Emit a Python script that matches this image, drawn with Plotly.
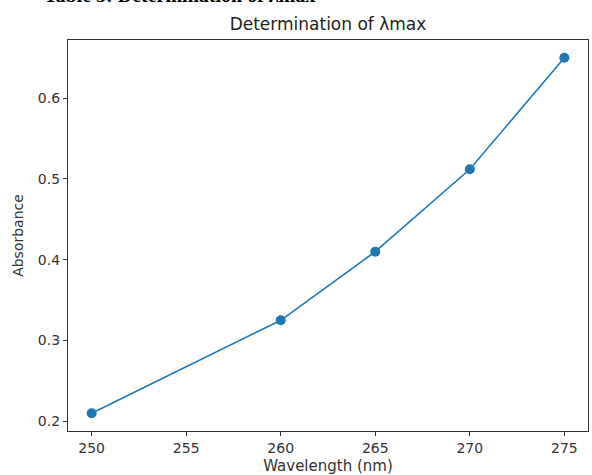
import plotly.graph_objects as go

wavelength = [250, 260, 265, 270, 275]
absorbance = [0.21, 0.325, 0.41, 0.512, 0.65]
x_ticks = [250, 255, 260, 265, 270, 275]
y_ticks = [0.2, 0.3, 0.4, 0.5, 0.6]

fig = go.Figure()
fig.add_trace(go.Scatter(
    x=wavelength, y=absorbance, mode="lines+markers",
    line=dict(color="#1f77b4", width=1.6),
    marker=dict(color="#1f77b4", size=10),
))

axis_common = dict(
    showline=True, linecolor="#333333", linewidth=1.2, mirror=True,
    ticks="outside", ticklen=4, tickcolor="#333333", tickwidth=1,
    showgrid=False, zeroline=False,
    tickfont=dict(family="DejaVu Sans", size=14, color="#333333"),
)

fig.update_layout(
    width=592, height=475,
    margin=dict(l=68, r=4, t=40, b=44),
    paper_bgcolor="white", plot_bgcolor="white",
    showlegend=False,
    title=dict(text="Determination of λmax", x=0.5, xref="paper", xanchor="center",
               y=1, yref="paper", yanchor="bottom", pad=dict(b=10),
               font=dict(family="DejaVu Sans", size=17, color="#222222")),
    xaxis=dict(range=[248.75, 276.25], tickvals=x_ticks,
               title=dict(text="Wavelength (nm)", standoff=5,
                          font=dict(family="DejaVu Sans", size=15, color="#333333")),
               **axis_common),
    yaxis=dict(range=[0.188, 0.672], tickvals=y_ticks, tickformat=".1f",
               title=dict(text="Absorbance", standoff=10,
                          font=dict(family="DejaVu Sans", size=14, color="#333333")),
               **axis_common),
)

fig.add_annotation(
    text="<b>Table 3: Determination of λmax</b>", xref="paper", yref="paper",
    x=-0.05, y=1.116, xanchor="left", yanchor="middle", showarrow=False,
    font=dict(family="Liberation Serif", size=20, color="black"),
)

fig.write_html("out.html", config={"displayModeBar": False},
               post_script="document.body.style.margin='0px';")
